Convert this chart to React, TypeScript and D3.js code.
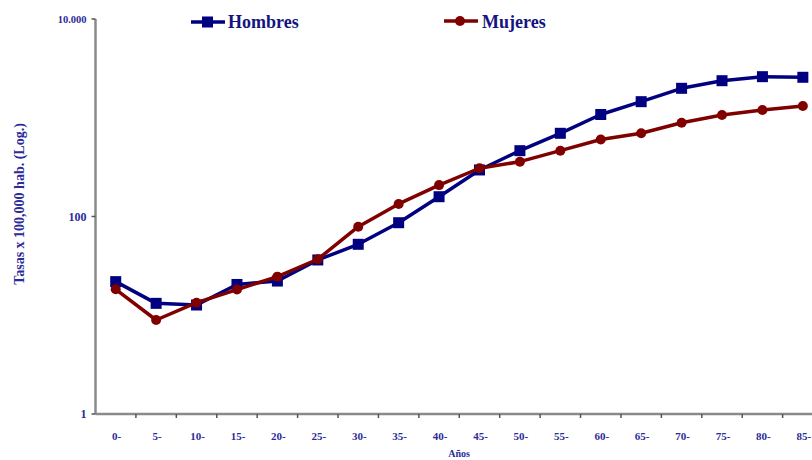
import React from "react";
import * as d3 from "d3";

const ageGroups = ["0-", "5-", "10-", "15-", "20-", "25-", "30-", "35-", "40-", "45-", "50-", "55-", "60-", "65-", "70-", "75-", "80-", "85-"];
const hombres = [21.9, 13.2, 12.7, 20.5, 22.2, 36.3, 52.3, 86.5, 158.6, 296, 464, 696, 1079, 1455, 1987, 2372, 2606, 2569];
const mujeres = [18.3, 8.95, 13.4, 18.2, 24.6, 36.9, 78.8, 134, 208, 308, 359, 464, 602, 696, 891, 1067, 1198, 1315];
const yTicks = [1, 100, 10000];
const yTickLabels = ["1", "100", "10.000"];

const W = 812;
const H = 460;
const axisX = 95.5;
const bandW = 40.42;
const yTop = 19;
const yBottom = 414;

const BLUE = "#000080";
const RED = "#800000";
const TEXT = "#2b2b9a";
const FONT = "Liberation Serif, DejaVu Serif, serif";

export default function App() {
  const x = d3
    .scaleBand<string>()
    .domain(ageGroups)
    .range([axisX, axisX + bandW * ageGroups.length]);
  const y = d3.scaleLog().domain([1, 10000]).range([yBottom, yTop]);
  const cx = (i: number) => (x(ageGroups[i]) as number) + x.bandwidth() / 2;

  const line = d3
    .line<number>()
    .x((_, i) => cx(i))
    .y((d) => y(d));

  const xEnd = axisX + bandW * ageGroups.length;
  const ts = { fontFamily: FONT };

  return (
    <svg
      width={W}
      height={H}
      style={{ position: "absolute", left: 0, top: 0, background: "#fff", fontFamily: FONT }}
    >
      {/* axes */}
      <line x1={axisX} x2={axisX} y1={yTop} y2={yBottom} stroke="#8a8a8a" strokeWidth={2.5} />
      <line x1={axisX} x2={xEnd} y1={yBottom} y2={yBottom} stroke="#8a8a8a" strokeWidth={2.5} />
      {yTicks.map((t, i) => (
        <g key={t}>
          <line x1={axisX - 4} x2={axisX} y1={y(t)} y2={y(t)} stroke="#555" strokeWidth={1.5} />
          <text
            x={axisX - 9}
            y={y(t)}
            dy="0.35em"
            textAnchor="end"
            fontSize={t === 10000 ? 10.5 : 12}
            fontWeight="bold"
            fill={TEXT}
            style={ts}
          >
            {yTickLabels[i]}
          </text>
        </g>
      ))}
      {ageGroups.map((g, i) => (
        <g key={g}>
          <line
            x1={(x(g) as number) + bandW}
            x2={(x(g) as number) + bandW}
            y1={yBottom}
            y2={yBottom + 4}
            stroke="#555"
            strokeWidth={1.5}
          />
          <text x={cx(i) + 1} y={440} textAnchor="middle" fontSize={11} fontWeight="bold" fill={TEXT} style={ts}>
            {g}
          </text>
        </g>
      ))}
      <text x={459} y={457} textAnchor="middle" fontSize={10} fontWeight="bold" fill={TEXT} style={ts}>
        Años
      </text>
      <text
        transform={`translate(24,${204}) rotate(-90)`}
        textAnchor="middle"
        fontSize={14}
        fontWeight="bold"
        fill={TEXT}
        style={ts}
      >
        Tasas x 100,000 hab. (Log.)
      </text>

      {/* series */}
      <path d={line(hombres) ?? ""} fill="none" stroke={BLUE} strokeWidth={3.5} strokeLinejoin="round" />
      {hombres.map((v, i) => (
        <rect key={i} x={cx(i) - 5.5} y={y(v) - 5.5} width={11} height={11} fill={BLUE} />
      ))}
      <path d={line(mujeres) ?? ""} fill="none" stroke={RED} strokeWidth={3.5} strokeLinejoin="round" />
      {mujeres.map((v, i) => (
        <circle key={i} cx={cx(i)} cy={y(v)} r={5} fill={RED} />
      ))}

      {/* legend */}
      <line x1={191} x2={225} y1={22} y2={22} stroke={BLUE} strokeWidth={3.5} />
      <rect x={202} y={16.5} width={11} height={11} fill={BLUE} />
      <text x={228} y={28} fontSize={18} fontWeight="bold" fill="#14147f" style={ts}>
        Hombres
      </text>
      <line x1={444} x2={478} y1={21} y2={21} stroke={RED} strokeWidth={3.5} />
      <circle cx={460} cy={21} r={5} fill={RED} />
      <text x={482} y={28} fontSize={18} fontWeight="bold" fill="#14147f" style={ts}>
        Mujeres
      </text>
    </svg>
  );
}
